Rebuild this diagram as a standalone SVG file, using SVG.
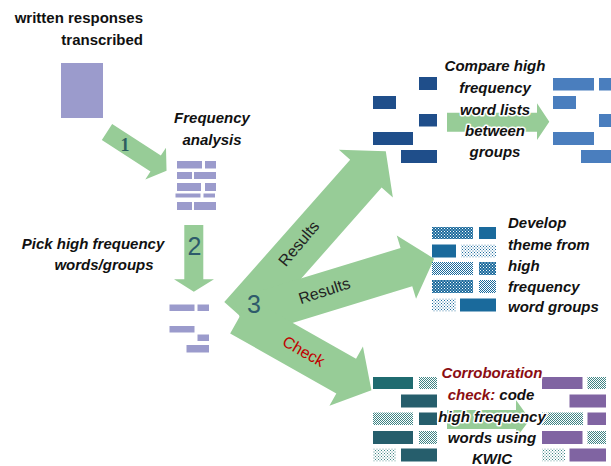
<svg xmlns="http://www.w3.org/2000/svg" width="611" height="466" viewBox="0 0 611 466">
<style>
.lbl{font-family:"Liberation Sans",Arial,sans-serif;font-weight:bold;font-size:15px;fill:#111}
.it{font-style:italic}
.halo{stroke:#fff;stroke-width:3;stroke-linejoin:round;paint-order:stroke}
.arr{fill:#97cc97}
.pv{fill:#9b9bcc}
.db{fill:#1f4e8a}
.lb{fill:#4a7ebe}
.mb{fill:#1a6a9c}
.tl{fill:#265e6c}
.pu{fill:#8064a2}
.num{font-family:"Liberation Sans",Arial,sans-serif;font-size:25px;fill:#2e5b6b}
.res{font-family:"Liberation Sans",Arial,sans-serif;font-size:16px;fill:#222}
.red{fill:#8b0d12}
</style>
<defs>
<pattern id="bD" width="3" height="3" patternUnits="userSpaceOnUse"><rect width="3" height="3" fill="#1a6a9c"/><rect x="0" y="0" width="1" height="1" fill="#fff"/><rect x="1.5" y="1.5" width="1" height="1" fill="#fff"/></pattern>
<pattern id="bM" width="2" height="2" patternUnits="userSpaceOnUse"><rect width="2" height="2" fill="#fff"/><rect width="1" height="1" fill="#1a6a9c"/><rect x="1" y="1" width="1" height="1" fill="#1a6a9c"/></pattern>
<pattern id="bL" width="3" height="3" patternUnits="userSpaceOnUse"><rect width="3" height="3" fill="#fff"/><rect width="1" height="1" fill="#1a6a9c"/><rect x="1.5" y="1.5" width="1" height="1" fill="#1a6a9c"/></pattern>
<pattern id="tM" width="2" height="2" patternUnits="userSpaceOnUse"><rect width="2" height="2" fill="#fff"/><rect width="1" height="1" fill="#3f8585"/><rect x="1" y="1" width="1" height="1" fill="#3f8585"/></pattern>
<pattern id="tL" width="3" height="3" patternUnits="userSpaceOnUse"><rect width="3" height="3" fill="#fff"/><rect width="1" height="1" fill="#3f8585"/><rect x="1.5" y="1.5" width="1" height="1" fill="#3f8585"/></pattern>
</defs>

<g id="connectors">
  <polygon id="arrow1" class="arr" transform="translate(107,132) rotate(33)" points="0,-9.5 58,-9.5 58,-19 71,0 58,19 58,9.5 0,9.5"/>
  <polygon id="arrow2" class="arr" points="184.3,225 203.3,225 203.3,279.3 214,279.3 193.8,291.7 174,279.3 184.3,279.3"/>
  <polygon id="arrow3a" class="arr" transform="translate(240,316) rotate(-48.5)" points="0,-21 190,-21 190,-36 220,0 190,36 190,21 0,21"/>
  <polygon id="arrow3b" class="arr" transform="translate(240,318) rotate(-17)" points="0,-20 174,-20 174,-33 203,0 174,33 174,20 0,20"/>
  <polygon id="arrow3c" class="arr" transform="translate(240,316) rotate(29.5)" points="0,-20 122,-20 122,-34 151,0 122,34 122,20 0,20"/>
  <polygon id="arrow4" class="arr" points="447,112.7 537,112.7 537,103.3 549.3,121.7 537,140 537,131.7 447,131.7"/>
  <polygon id="arrow5" class="arr" points="447,410 516,410 516,400 530,419.5 516,438 516,429 447,429"/>
  <text class="num" x="125" y="151" text-anchor="middle" style="font-family:'Liberation Serif',serif;font-size:18px;font-weight:bold;fill:#2d5f5f">1</text>
  <text class="num" x="194.5" y="255" text-anchor="middle">2</text>
  <text class="num" x="254" y="313" text-anchor="middle">3</text>
  <text class="res" transform="translate(303,247) rotate(-50)" text-anchor="middle">Results</text>
  <text class="res" transform="translate(326,296) rotate(-18)" text-anchor="middle">Results</text>
  <text class="res" transform="translate(301,356) rotate(30)" text-anchor="middle" style="fill:#c00000">Check</text>
</g>

<g id="node-written">
  <text class="lbl" x="143" y="23" text-anchor="end">written responses</text>
  <text class="lbl" x="143" y="45" text-anchor="end">transcribed</text>
  <rect class="pv" x="61" y="63" width="42" height="55"/>
</g>

<g id="node-frequency">
  <text class="lbl it" x="212" y="123" text-anchor="middle">Frequency</text>
  <text class="lbl it" x="212" y="145" text-anchor="middle">analysis</text>
  <rect class="pv" x="177" y="161" width="25" height="7.5"/>
  <rect class="pv" x="205" y="161" width="11" height="7.5"/>
  <rect class="pv" x="177" y="172" width="15" height="7"/>
  <rect class="pv" x="194" y="172" width="22" height="7"/>
  <rect class="pv" x="177" y="183" width="24" height="8"/>
  <rect class="pv" x="205" y="183" width="11" height="8"/>
  <rect class="pv" x="175.5" y="193.5" width="25" height="4"/>
  <rect class="pv" x="203.5" y="193.5" width="11.5" height="4"/>
  <rect class="pv" x="177" y="202" width="15" height="8"/>
  <rect class="pv" x="194" y="202" width="22" height="8"/>
</g>

<g id="node-pick">
  <text class="lbl it" x="93" y="249" text-anchor="middle">Pick high frequency</text>
  <text class="lbl it" x="104" y="270" text-anchor="middle">words/groups</text>
  <rect class="pv" x="169.5" y="304.5" width="25" height="6.5"/>
  <rect class="pv" x="197.5" y="304.5" width="11.5" height="6.5"/>
  <rect class="pv" x="169.5" y="326" width="25" height="6.5"/>
  <rect class="pv" x="197.5" y="334.5" width="11.5" height="6.5"/>
  <rect class="pv" x="186.5" y="345" width="22.5" height="7.5"/>
</g>

<g id="node-compare">
  <rect class="db" x="419" y="77" width="18" height="13"/>
  <rect class="db" x="373" y="96" width="23" height="13"/>
  <rect class="db" x="419" y="114" width="18" height="12.5"/>
  <rect class="db" x="373" y="132" width="40" height="13"/>
  <rect class="db" x="401" y="150" width="36" height="13"/>
  <rect class="lb" x="553" y="78" width="41" height="12.5"/>
  <rect class="lb" x="599" y="78" width="12" height="12.5"/>
  <rect class="lb" x="553" y="96" width="23" height="13"/>
  <rect class="lb" x="599" y="114" width="12" height="13"/>
  <rect class="lb" x="553" y="132" width="41" height="13"/>
  <rect class="lb" x="581" y="150" width="30" height="13"/>
  <text class="lbl it halo" x="495" y="71" text-anchor="middle">Compare high</text>
  <text class="lbl it halo" x="495" y="93" text-anchor="middle">frequency</text>
  <text class="lbl it halo" x="495" y="114.5" text-anchor="middle">word lists</text>
  <text class="lbl it halo" x="495" y="135.5" text-anchor="middle">between</text>
  <text class="lbl it halo" x="495" y="157" text-anchor="middle">groups</text>
</g>

<g id="node-theme">
  <rect x="432" y="227" width="41" height="12" fill="url(#bD)"/>
  <rect class="mb" x="479" y="227" width="17" height="12"/>
  <rect class="mb" x="432" y="244.5" width="24" height="13"/>
  <rect x="461" y="244.5" width="35" height="13" fill="url(#bL)"/>
  <rect x="432" y="262" width="41" height="13" fill="url(#bM)"/>
  <rect x="479" y="262" width="17" height="13" fill="url(#bD)"/>
  <rect x="432" y="280" width="41" height="13" fill="url(#bD)"/>
  <rect x="479" y="280" width="17" height="13" fill="url(#bM)"/>
  <rect x="432" y="298.5" width="24" height="13" fill="url(#bL)"/>
  <rect class="mb" x="460" y="298.5" width="36" height="13"/>
  <text class="lbl it" x="508" y="228">Develop</text>
  <text class="lbl it" x="508" y="249.5">theme from</text>
  <text class="lbl it" x="508" y="270.5">high</text>
  <text class="lbl it" x="508" y="291.5">frequency</text>
  <text class="lbl it" x="508" y="312">word groups</text>
</g>

<g id="node-corroboration">
  <rect class="tl" x="373" y="377" width="40" height="12" style="fill:#1f6b70"/>
  <rect x="419" y="377" width="18" height="12" fill="url(#tM)"/>
  <rect class="tl" x="401" y="394.5" width="36" height="13"/>
  <rect x="373" y="412.5" width="40" height="12.5" fill="url(#tM)"/>
  <rect class="tl" x="419" y="412.5" width="18" height="12.5"/>
  <rect class="tl" x="373" y="431" width="40" height="13"/>
  <rect x="419" y="431" width="18" height="13" fill="url(#tM)"/>
  <rect x="373" y="448.5" width="23" height="13" fill="url(#tL)"/>
  <rect class="tl" x="401" y="448.5" width="36" height="13"/>
  <rect class="pu" x="542" y="377" width="40.5" height="12"/>
  <rect x="587.5" y="377" width="18.5" height="12" fill="url(#tM)"/>
  <rect class="pu" x="569.5" y="394.5" width="36.5" height="13"/>
  <rect x="542" y="412.5" width="41" height="12.5" fill="url(#tM)"/>
  <rect class="pu" x="587.5" y="412.5" width="18.5" height="12.5"/>
  <rect class="pu" x="542" y="431" width="40.5" height="13"/>
  <rect x="587.5" y="431" width="18.5" height="13" fill="url(#tM)"/>
  <rect x="542" y="448.5" width="23" height="13" fill="url(#tL)"/>
  <rect class="pu" x="569.5" y="448.5" width="36.5" height="13"/>
  <text class="lbl it halo red" x="492" y="378" text-anchor="middle">Corroboration</text>
  <text class="lbl it halo" x="491" y="400" text-anchor="middle"><tspan class="red">check:</tspan> code</text>
  <text class="lbl it halo" x="492" y="421.5" text-anchor="middle">high frequency</text>
  <text class="lbl it halo" x="492" y="443" text-anchor="middle">words using</text>
  <text class="lbl it halo" x="492" y="463.5" text-anchor="middle">KWIC</text>
</g>
</svg>
